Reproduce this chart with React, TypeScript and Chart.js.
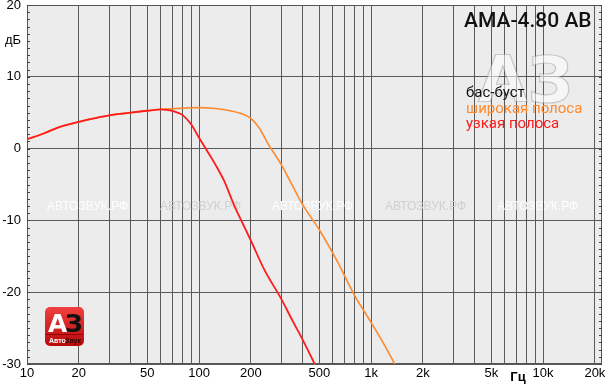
import React, { useEffect, useRef } from 'react';
import { Chart, registerables } from 'chart.js';
Chart.register(...registerables);

// ---- data ----
const wideFreq = [10, 12.5, 15, 20, 25, 30, 40, 50, 60, 70, 80, 90, 100, 120, 150, 175, 200, 225, 250, 300, 350, 400, 500, 630, 800, 1000, 1200, 1400];
const wideDb = [1.3, 2.1, 2.9, 3.73, 4.25, 4.62, 5.0, 5.27, 5.45, 5.55, 5.62, 5.68, 5.7, 5.62, 5.3, 4.9, 4.2, 2.8, 0.8, -2.2, -5.2, -7.8, -11.3, -15.5, -20.4, -24.2, -27.4, -30.4];
const narrowFreq = [10, 12.5, 15, 20, 25, 30, 40, 50, 60, 65, 70, 75, 80, 90, 100, 110, 125, 140, 160, 180, 200, 240, 300, 350, 400, 500];
const narrowDb = [1.3, 2.1, 2.9, 3.73, 4.25, 4.62, 5.0, 5.27, 5.45, 5.4, 5.25, 5.0, 4.7, 3.4, 1.5, -0.1, -2.3, -4.5, -7.9, -10.5, -12.8, -16.9, -20.9, -24, -26.6, -31.3];

const xGridValues = [10, 20, 30, 40, 50, 60, 70, 80, 90, 100, 200, 300, 400, 500, 600, 700, 800, 900, 1000, 2000, 3000, 4000, 5000, 6000, 7000, 8000, 9000, 10000, 20000];
const xTickLabels: Record<number, string> = { 10: '10', 20: '20', 50: '50', 100: '100', 200: '200', 500: '500', 1000: '1k', 2000: '2k', 5000: '5k', 10000: '10k', 20000: '20k' };
const yTickValues = [-30, -20, -10, 0, 10, 15, 20];
const yTickLabels: Record<string, string> = { '-30': '-30', '-20': '-20', '-10': '-10', '0': '0', '10': '10', '15': 'дБ', '20': '20' };

const title = 'AMA-4.80 AB';
const legendItems = [
  { text: 'бас-буст', color: '#111111' },
  { text: 'широкая полоса', color: '#ff8a2e' },
  { text: 'узкая полоса', color: '#ff1c1c' },
];
const watermark = 'АВТОЗВУК.РФ';
const xUnit = 'Гц';

const FONT = '"Liberation Sans", Arial, sans-serif';

const decor = {
  id: 'decor',
  beforeDraw(chart: any) {
    const { ctx, chartArea: { left, top, right, bottom } } = chart;
    ctx.save();
    ctx.fillStyle = '#ffffff';
    ctx.fillRect(0, 0, chart.width, chart.height);
    ctx.fillStyle = '#ececec';
    ctx.fillRect(left, top, right - left, bottom - top);
    ctx.restore();
  },
  beforeDatasetsDraw(chart: any) {
    const { ctx, chartArea: { left, top, right, bottom } } = chart;
    ctx.save();
    ctx.strokeStyle = '#555';
    ctx.lineWidth = 1;
    ctx.strokeRect(Math.round(left) + 0.5, Math.round(top) + 0.5, Math.round(right - left) - 1, Math.round(bottom - top) - 1);
    const ys = chart.scales.y;
    ctx.strokeStyle = '#444';
    for (let v = -30; v <= 20; v++) {
      const y = Math.round(ys.getPixelForValue(v)) + 0.5;
      ctx.beginPath();
      ctx.moveTo(left, y); ctx.lineTo(left + 3, y);
      ctx.moveTo(right - 3, y); ctx.lineTo(right, y);
      ctx.stroke();
    }
    // big watermark logo
    ctx.font = 'bold 64px "DejaVu Sans", sans-serif';
    ctx.textBaseline = 'alphabetic';
    ctx.textAlign = 'left';
    ctx.fillStyle = 'rgba(255,255,255,0.55)';
    ctx.fillText('АЗ', 478, 102);
    ctx.strokeStyle = 'rgba(120,120,120,0.35)';
    ctx.lineWidth = 1.2;
    ctx.strokeText('АЗ', 478, 102);
    // text watermarks
    ctx.font = '12px ' + FONT;
    ctx.textBaseline = 'middle';
    const wx = [47, 160, 272, 385, 497];
    wx.forEach((x, i) => {
      ctx.fillStyle = i % 2 === 0 ? 'rgba(255,255,255,0.95)' : 'rgba(205,205,205,0.9)';
      ctx.fillText(watermark, x, 207);
    });
    ctx.restore();
  },
  afterDraw(chart: any) {
    const { ctx } = chart;
    ctx.save();
    ctx.fillStyle = '#111';
    ctx.font = '500 21px Roboto, sans-serif';
    ctx.textAlign = 'left';
    ctx.textBaseline = 'alphabetic';
    ctx.fillText(title, 464, 27);
    ctx.font = '15px Roboto, sans-serif';
    legendItems.forEach((it, i) => {
      ctx.fillStyle = it.color;
      ctx.fillText(it.text, 466, 97 + i * 15.5);
    });
    ctx.fillStyle = '#000';
    ctx.font = 'bold 13px ' + FONT;
    ctx.textAlign = 'center';
    ctx.fillText(xUnit, 518, 381);
    // red logo bottom-left
    const lx = 45, ly = 307, lw = 39, lh = 39, r = 5;
    const g = ctx.createLinearGradient(0, ly, 0, ly + lh);
    g.addColorStop(0, '#f04040');
    g.addColorStop(1, '#b80a0a');
    ctx.fillStyle = g;
    ctx.beginPath();
    ctx.moveTo(lx + r, ly);
    ctx.arcTo(lx + lw, ly, lx + lw, ly + lh, r);
    ctx.arcTo(lx + lw, ly + lh, lx, ly + lh, r);
    ctx.arcTo(lx, ly + lh, lx, ly, r);
    ctx.arcTo(lx, ly, lx + lw, ly, r);
    ctx.closePath();
    ctx.fill();
    ctx.fillStyle = '#9a0000';
    ctx.fillRect(lx + 1, ly + 27, lw - 2, 1);
    ctx.font = 'bold 25px "DejaVu Sans", sans-serif';
    ctx.textAlign = 'left';
    ctx.fillStyle = '#ffffff';
    ctx.fillText('А', lx + 3, ly + 25);
    ctx.fillStyle = '#111';
    ctx.fillText('З', lx + 20, ly + 25);
    ctx.font = 'bold 7px ' + FONT;
    ctx.fillStyle = '#fff';
    ctx.fillText('Авто', lx + 4, ly + 36);
    ctx.fillStyle = '#3a0000';
    ctx.fillText('Звук', lx + 20, ly + 36);
    ctx.restore();
  },
};

export default function App() {
  const ref = useRef<HTMLCanvasElement>(null);
  useEffect(() => {
    document.body.style.margin = '0';
    const canvas = ref.current!;
    const chart = new Chart(canvas, {
      type: 'line',
      data: {
        datasets: [
          {
            label: 'узкая полоса',
            data: narrowFreq.map((f, i) => ({ x: f, y: narrowDb[i] })),
            borderColor: '#ff1c1c',
            borderWidth: 1.8,
            pointRadius: 0,
            cubicInterpolationMode: 'monotone',
            order: 0,
          },
          {
            label: 'широкая полоса',
            data: wideFreq.map((f, i) => ({ x: f, y: wideDb[i] })),
            borderColor: '#ff8a2e',
            borderWidth: 1.6,
            pointRadius: 0,
            cubicInterpolationMode: 'monotone',
            order: 1,
          },
        ],
      },
      options: {
        animation: false,
        responsive: false,
        maintainAspectRatio: false,
        layout: { padding: { top: 5, right: 8, left: 0, bottom: 0 } },
        plugins: { legend: { display: false }, tooltip: { enabled: false } },
        scales: {
          x: {
            type: 'logarithmic',
            min: 10,
            max: 22000,
            afterBuildTicks: (s: any) => { s.ticks = xGridValues.map((v) => ({ value: v })); },
            afterFit: (s: any) => { s.height = 20; s.paddingLeft = 0; s.paddingRight = 0; },
            grid: { color: '#5a5a5a', lineWidth: 1, drawTicks: false },
            border: { display: false },
            ticks: {
              autoSkip: false,
              maxRotation: 0,
              padding: 2,
              color: '#000',
              font: { family: FONT, size: 13 },
              callback: (v: any) => xTickLabels[Number(v)] ?? '',
            },
          },
          y: {
            min: -30,
            max: 20,
            afterBuildTicks: (s: any) => { s.ticks = yTickValues.map((v) => ({ value: v })); },
            afterFit: (s: any) => { s.width = 27; s.paddingTop = 0; s.paddingBottom = 0; },
            grid: {
              color: (c: any) => (c.tick && c.tick.value === 15 ? 'rgba(0,0,0,0)' : '#5a5a5a'),
              lineWidth: 1,
              drawTicks: false,
            },
            border: { display: false },
            ticks: {
              padding: 6,
              color: '#000',
              font: { family: FONT, size: 13 },
              callback: (v: any) => yTickLabels[String(v)] ?? '',
            },
          },
        },
      },
      plugins: [decor],
    } as any);
    return () => chart.destroy();
  }, []);
  return (
    <div style={{ width: 610, height: 384 }}>
      <canvas ref={ref} width={610} height={384} style={{ display: 'block' }} />
    </div>
  );
}
